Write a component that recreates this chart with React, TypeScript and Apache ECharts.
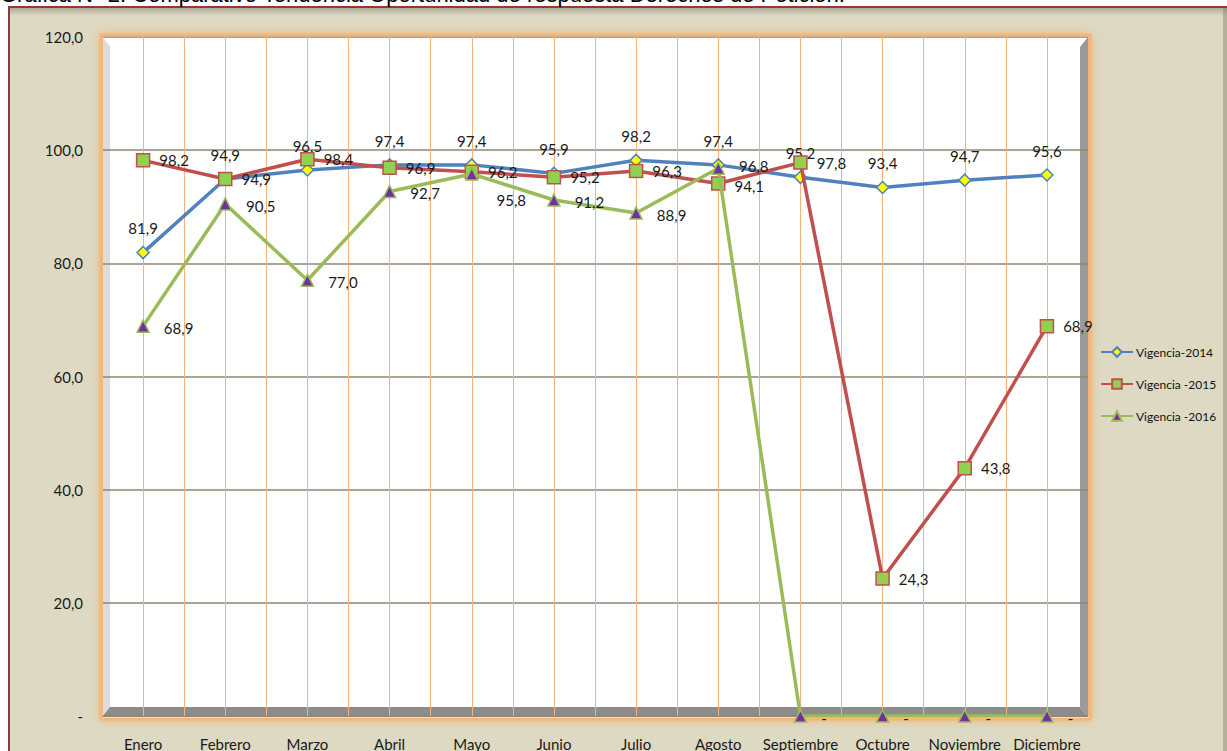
import React, { useEffect, useRef } from 'react';
import * as echarts from 'echarts';

const months = ['Enero', 'Febrero', 'Marzo', 'Abril', 'Mayo', 'Junio', 'Julio', 'Agosto', 'Septiembre', 'Octubre', 'Noviembre', 'Diciembre'];
const vigencia2014 = [81.9, 94.9, 96.5, 97.4, 97.4, 95.9, 98.2, 97.4, 95.2, 93.4, 94.7, 95.6];
const vigencia2015 = [98.2, 94.9, 98.4, 96.9, 96.2, 95.2, 96.3, 94.1, 97.8, 24.3, 43.8, 68.9];
const vigencia2016 = [68.9, 90.5, 77.0, 92.7, 95.8, 91.2, 88.9, 96.8, 0, 0, 0, 0];
const seriesNames = ['Vigencia-2014', 'Vigencia -2015', 'Vigencia -2016'];
const yMin = 0;
const yMax = 120;
const yStep = 20;
const titleText = 'Gráfica N° 2. Comparativo Tendencia Oportunidad de respuesta Derechos de Petición.';

// per-point label nudges (style only), keyed by category index
const green2016LabelOffsets: Record<number, [number, number]> = { 4: [4, 26], 7: [0, -2] };
const red2015LabelOffsets: Record<number, [number, number]> = { 7: [0, 2] };

const FONT = 'Lato, "Liberation Sans", sans-serif';
const fmt = (v: number) => (v === 0 ? '-' : v.toFixed(1).replace('.', ','));
const withOffsets = (arr: number[], offs: Record<number, [number, number]>) =>
  arr.map((v, i) => (offs[i] ? { value: v, label: { offset: offs[i] } } : v));
const labelFmt = (p: any) => fmt(typeof p.value === 'number' ? p.value : p.data.value);

export default function App() {
  const ref = useRef<HTMLDivElement>(null);
  useEffect(() => {
    document.body.style.margin = '0';
    const chart = echarts.init(ref.current!, null, { renderer: 'svg' });
    const L = 102, T = 37, R = 1088, B = 717;
    const option: any = {
      animation: false,
      textStyle: { fontFamily: FONT },
      graphic: [
        { type: 'rect', z: 1, shape: { x: 9, y: 7, width: 1240, height: 760 }, style: { fill: '#DDD9C3', stroke: '#953735', lineWidth: 2 } },
        { type: 'rect', z: 1, shape: { x: 10, y: 8, width: 1240, height: 8 }, style: { fill: new echarts.graphic.LinearGradient(0, 0, 0, 1, [{ offset: 0, color: 'rgba(120,115,95,0.45)' }, { offset: 1, color: 'rgba(120,115,95,0)' }]) } },
        { type: 'rect', z: 1, shape: { x: 1223, y: 8, width: 4, height: 760 }, style: { fill: 'rgba(120,115,95,0.4)' } },
        { type: 'text', z: 20, x: 0, y: 5, style: { text: titleText, fill: '#000', font: '22px "Liberation Sans", Arial, sans-serif', verticalAlign: 'bottom', align: 'left' } },
        { type: 'rect', z: 2, shape: { x: L - 2, y: T - 3, width: R - L + 5, height: B - T + 6 }, style: { fill: '#fff', shadowBlur: 8, shadowColor: 'rgba(247,170,90,0.9)' } },
        { type: 'polygon', z: 3, shape: { points: [[L, T], [L + 8, T + 9], [L + 8, B - 10], [L, B]] }, style: { fill: '#DCDCDC' } },
        { type: 'polygon', z: 3, shape: { points: [[L, B], [L + 8, B - 10], [R - 8, B - 10], [R, B]] }, style: { fill: '#8C8C8C' } },
        { type: 'polygon', z: 3, shape: { points: [[R - 8, T + 10], [R, T], [R, B], [R - 8, B - 10]] }, style: { fill: '#9A9A9A' } },
        { type: 'rect', z: 6, shape: { x: L - 1, y: T - 2, width: R - L + 3, height: B - T + 4 }, style: { fill: 'none', stroke: '#F4B77A', lineWidth: 3 } },
      ],
      grid: { left: L, right: 1227 - R, top: T, bottom: 751 - B, containLabel: false },
      legend: {
        orient: 'vertical',
        left: 1095,
        top: 341,
        itemWidth: 32,
        itemHeight: 12,
        itemGap: 20,
        data: seriesNames,
        textStyle: { fontFamily: FONT, fontSize: 12, color: '#111', padding: [0, 0, 0, -2] },
        z: 12,
      },
      xAxis: [
        {
          type: 'category',
          data: months,
          z: 5,
          axisLine: { show: false },
          axisTick: { show: false },
          splitLine: { show: false },
          axisLabel: { interval: 0, margin: 20, fontSize: 15, color: '#1a1a1a', fontFamily: FONT },
        },
        {
          type: 'value',
          min: 0,
          max: 24,
          interval: 1,
          position: 'top',
          z: 5,
          axisLine: { show: false },
          axisTick: { show: false },
          axisLabel: { show: false },
          splitLine: { show: true, lineStyle: { color: '#F8B17A', width: 1 } },
        },
      ],
      yAxis: {
        type: 'value',
        min: yMin,
        max: yMax,
        interval: yStep,
        z: 5,
        axisLine: { show: false },
        axisTick: { show: false },
        axisLabel: { margin: 19, fontSize: 15, color: '#1a1a1a', fontFamily: FONT, formatter: (v: number) => fmt(v) },
        splitLine: { show: true, lineStyle: { color: '#8E8775', width: 1.5 } },
      },
      series: [
        {
          name: seriesNames[0],
          type: 'line',
          data: vigencia2014,
          z: 10,
          symbol: 'diamond',
          symbolSize: 12,
          lineStyle: { color: '#4F81BD', width: 3.5 },
          itemStyle: { color: '#FFFF00', borderColor: '#4F81BD', borderWidth: 1.5 },
          label: { show: true, position: 'top', distance: 10, fontSize: 15, color: '#1a1a1a', fontFamily: FONT, formatter: labelFmt },
        },
        {
          name: seriesNames[1],
          type: 'line',
          data: withOffsets(vigencia2015, red2015LabelOffsets),
          z: 11,
          symbol: 'rect',
          symbolSize: 13,
          lineStyle: { color: '#C0504D', width: 3.5 },
          itemStyle: { color: '#92D050', borderColor: '#C0504D', borderWidth: 1.5 },
          label: { show: true, position: 'right', distance: 9, fontSize: 15, color: '#1a1a1a', fontFamily: FONT, formatter: labelFmt },
        },
        {
          name: seriesNames[2],
          type: 'line',
          data: withOffsets(vigencia2016, green2016LabelOffsets),
          z: 12,
          symbol: 'triangle',
          symbolSize: 12,
          lineStyle: { color: '#9BBB59', width: 3.5 },
          itemStyle: { color: '#7030A0', borderColor: '#9BBB59', borderWidth: 1.5 },
          label: { show: true, position: 'right', distance: 14, offset: [0, 2], fontSize: 15, color: '#1a1a1a', fontFamily: FONT, formatter: labelFmt },
        },
      ],
    };
    chart.setOption(option);
    return () => chart.dispose();
  }, []);
  return <div ref={ref} style={{ position: 'absolute', left: 0, top: 0, width: 1227, height: 751 }} />;
}
